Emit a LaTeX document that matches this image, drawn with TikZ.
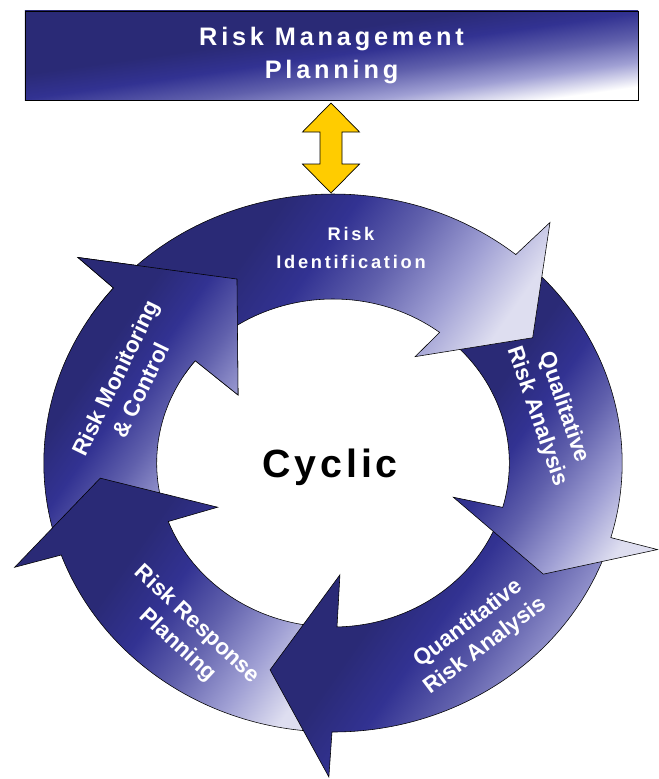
\documentclass[tikz,border=0pt]{standalone}
\usepackage{fontspec}
\setmainfont{Liberation Sans}
\newfontfamily\spacedfont[LetterSpace=15]{Liberation Sans}
\newfontfamily\widefont[LetterSpace=10]{Liberation Sans}
\definecolor{navyd}{RGB}{42,42,118}
\definecolor{bluem}{RGB}{50,50,146}
\definecolor{bluel}{RGB}{96,96,172}
\definecolor{lav}{RGB}{160,160,212}
\definecolor{pale}{RGB}{222,222,240}
\definecolor{gold}{RGB}{255,204,0}
\pgfdeclareverticalshading{ringshade}{100bp}{color(0bp)=(pale); color(24bp)=(pale); color(33bp)=(lav); color(43bp)=(bluel); color(52bp)=(bluem); color(61bp)=(navyd); color(100bp)=(navyd)}
\pgfdeclareverticalshading{bannershade}{100bp}{color(0bp)=(white); color(26bp)=(white); color(34bp)=(lav); color(42bp)=(bluel); color(50bp)=(bluem); color(58bp)=(navyd); color(100bp)=(navyd)}
\def\rout{269}
\def\rin{164}
\def\cyclearrow(#1,#2,#3,#4,#5,#6,#7,#8,#9){
  \draw[ringarrow] (#1:\rout) arc[start angle=#1, end angle=#3, radius=\rout]
    -- (#5:314) -- (#8:#9) -- (#6:#7) -- (#4:\rin)
    arc[start angle=#4, end angle=#2, radius=\rin] -- cycle;
}

\begin{document}
\begin{tikzpicture}[x=0.025cm, y=-0.025cm,
  ringarrow/.style={shade, shading=ringshade, shading angle=55, draw=black, line width=0.4pt},
  banner/.style={shade, shading=bannershade, shading angle=8, draw=black, line width=0.5pt,
    minimum width=15.325cm, minimum height=2.225cm, inner sep=0pt, align=center, text=white,
    font=\spacedfont\bfseries\fontsize{18}{24}\selectfont},
  updown/.style={fill=gold, draw=black, line width=0.5pt},
  ringlabel/.style={text=white, align=center, inner sep=0pt, font=\bfseries\fontsize{16}{20}\selectfont},
  cyclabel/.style={text=black, inner sep=0pt, font=\widefont\bfseries\fontsize{28}{32}\selectfont}]
\useasboundingbox (0,0) rectangle (659,779);

\node[banner] (plan) at (331.5,55.5) {Risk Management\\Planning};
\coordinate (linktop) at (331,103);
\coordinate (linkbot) at (331,193);
\draw[updown] (linktop) -- ++(28.5,29) -- ++(-17.5,0) -- ++(0,32) -- ++(17.5,0) -- (linkbot)
  -- ++(-28.5,-29) -- ++(17.5,0) -- ++(0,-32) -- ++(-17.5,0) -- cycle;

\begin{scope}[shift={(333,463)}, x=0.026875cm, y=0.025cm]
\cyclearrow(200,200.9,139.4,141.4,139.1,142.4,111.5,115.9,204.5)
\cyclearrow(269.8,271.3,200,200.9,199.4,202.4,116,184,217)
\cyclearrow(-16.1,-15.7,-90.2,-88.7,-90.7,-86.7,112,-105.8,215)
\cyclearrow(50.8,52.8,-16.1,-15.7,-16,-17,117,-29.6,225)
\cyclearrow(139.4,141.4,50.8,52.8,50,54.3,131,34,224)
\begin{scope}
\clip (0,0) -- (147:340) arc[start angle=147, end angle=108, radius=340] -- cycle;
\cyclearrow(200,200.9,139.4,141.4,139.1,142.4,111.5,115.9,204.5)
\end{scope}
\end{scope}

\node[ringlabel, font=\spacedfont\bfseries\fontsize{13}{20.5}\selectfont] (ident) at (351,248) {Risk\\Identification};
\node[ringlabel, rotate=-71] (qual) at (550,412) {Qualitative\\Risk Analysis};
\node[ringlabel, rotate=37] (quant) at (477,635) {Quantitative\\Risk Analysis};
\node[ringlabel, rotate=-43] (resp) at (187,635) {Risk Response\\Planning};
\node[ringlabel, rotate=64] (monit) at (128,384) {Risk Monitoring\\\& Control};
\node[cyclabel] (cyc) at (330,467) {Cyclic};
\end{tikzpicture}
\end{document}
